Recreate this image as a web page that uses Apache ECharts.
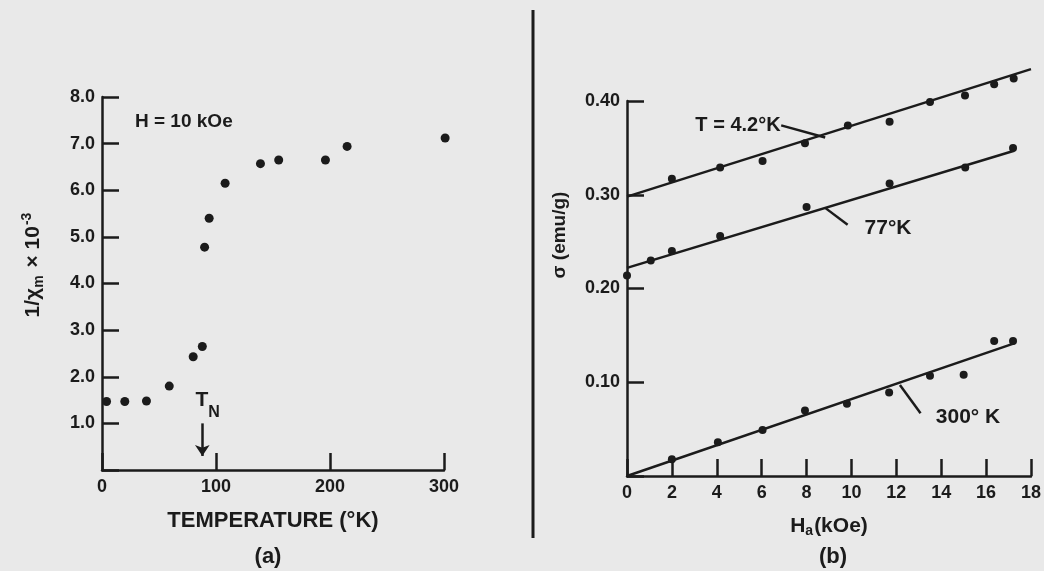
<!DOCTYPE html>
<html>
<head>
<meta charset="utf-8">
<script src="https://cdn.jsdelivr.net/npm/echarts@6/dist/echarts.min.js"></script>
<style>
html, body { margin: 0; padding: 0; background: #e9e9e9; }
#chart { width: 1044px; height: 571px; }
</style>
</head>
<body>
<div id="chart"></div>
<script>
// (a) inverse susceptibility vs temperature, H = 10 kOe
const tempK = [4, 20, 39, 59, 80, 88, 90, 94, 108, 139, 155, 196, 215, 301];
const invChi = [1.47, 1.47, 1.48, 1.80, 2.43, 2.65, 4.78, 5.40, 6.15, 6.57, 6.65, 6.65, 6.94, 7.12];
const tNeel = 88;
const tempTicks = [0, 100, 200, 300];

// (b) magnetisation vs applied field
const field42 = [2.0, 4.15, 6.04, 7.93, 9.84, 11.7, 13.5, 15.06, 16.36, 17.23];
const sigma42 = [0.317, 0.329, 0.336, 0.355, 0.374, 0.378, 0.399, 0.406, 0.418, 0.424];
const field77 = [0, 1.06, 2.0, 4.15, 8.0, 11.7, 15.07, 17.2];
const sigma77 = [0.214, 0.230, 0.240, 0.256, 0.287, 0.312, 0.329, 0.350];
const field300 = [2.0, 4.05, 6.04, 7.93, 9.8, 11.68, 13.5, 15.0, 16.36, 17.2];
const sigma300 = [0.018, 0.036, 0.049, 0.070, 0.077, 0.089, 0.107, 0.108, 0.144, 0.144];

// straight fits drawn through each set (end points)
const fit42 = [[0, 0.298], [18, 0.434]];
const fit77 = [[0, 0.222], [17.25, 0.347]];
const fit300 = [[0, 0], [17.25, 0.1415]];

// short leader lines from the curve labels to the fits
const leader42 = [[6.87, 0.374], [8.83, 0.361]];
const leader77 = [[8.83, 0.286], [9.83, 0.268]];
const leader300 = [[12.16, 0.097], [13.08, 0.067]];

const ink = '#1b1b1b';
const font = 'Liberation Sans';

function zip(xs, ys) {
  return xs.map((x, i) => [x, ys[i]]);
}

function axisBase(extra) {
  return Object.assign({
    axisLine: { lineStyle: { color: ink, width: 2.5 } },
    axisTick: { inside: true, length: 17, lineStyle: { color: ink, width: 2.5 } },
    splitLine: { show: false },
    axisLabel: { color: ink, fontFamily: font, fontWeight: 'bold', fontSize: 18, margin: 8 },
    nameTextStyle: { color: ink, fontFamily: font, fontWeight: 'bold', fontSize: 22 }
  }, extra);
}

function fitLine(data, x, y) {
  return {
    type: 'line', xAxisIndex: x, yAxisIndex: y, data: data,
    symbol: 'none', silent: true, clip: false,
    lineStyle: { color: ink, width: 2.5 }
  };
}

function dots(data, x, y, size) {
  return {
    type: 'scatter', xAxisIndex: x, yAxisIndex: y, data: data, clip: false,
    symbolSize: size, itemStyle: { color: ink, opacity: 1 }
  };
}

function txt(text, x, y, size, extra) {
  return Object.assign({
    type: 'text', x: x, y: y, silent: true,
    style: {
      text: text, fill: ink, font: 'bold ' + size + 'px "' + font + '"',
      textAlign: 'center', textVerticalAlign: 'middle'
    }
  }, extra || {});
}

const chart = echarts.init(document.getElementById('chart'));

const aScatter = dots(zip(tempK, invChi), 0, 0, 9);
aScatter.markLine = {
  silent: true,
  symbol: ['none', 'arrow'],
  symbolSize: 11,
  label: { show: false },
  lineStyle: { color: ink, width: 2.5, type: 'solid' },
  data: [[{ coord: [tNeel, 1.0] }, { coord: [tNeel, 0.3] }]]
};

chart.setOption({
  animation: false,
  backgroundColor: '#e9e9e9',
  grid: [
    { left: 102, top: 97, width: 342, height: 373 },
    { left: 627, top: 101, width: 414, height: 375 }
  ],
  xAxis: [
    axisBase({
      gridIndex: 0, type: 'value', min: tempTicks[0], max: tempTicks[tempTicks.length - 1], interval: 100,
      name: 'TEMPERATURE (°K)', nameLocation: 'middle', nameGap: 40
    }),
    axisBase({
      gridIndex: 1, type: 'value', min: 0, max: 18, interval: 2,
      name: '{h|H}{s|a}{h|(kOe)}', nameLocation: 'middle', nameGap: 38,
      nameTextStyle: {
        rich: {
          h: { color: ink, fontFamily: font, fontWeight: 'bold', fontSize: 21 },
          s: { color: ink, fontFamily: font, fontWeight: 'bold', fontSize: 14, padding: [10, 1, 0, 0] }
        }
      }
    })
  ],
  yAxis: [
    axisBase({
      gridIndex: 0, type: 'value', min: 0, max: 8, interval: 1,
      axisLabel: {
        color: ink, fontFamily: font, fontWeight: 'bold', fontSize: 18, margin: 7,
        formatter: v => (v === 0 ? '' : v.toFixed(1))
      }
    }),
    axisBase({
      gridIndex: 1, type: 'value', min: 0, max: 0.4, interval: 0.1,
      axisLabel: {
        color: ink, fontFamily: font, fontWeight: 'bold', fontSize: 18, margin: 7,
        formatter: v => (v === 0 ? '' : v.toFixed(2))
      }
    })
  ],
  series: [
    aScatter,
    fitLine(fit42, 1, 1),
    fitLine(fit77, 1, 1),
    fitLine(fit300, 1, 1),
    fitLine(leader42, 1, 1),
    fitLine(leader77, 1, 1),
    fitLine(leader300, 1, 1),
    dots(zip(field42, sigma42), 1, 1, 8),
    dots(zip(field77, sigma77), 1, 1, 8),
    dots(zip(field300, sigma300), 1, 1, 8)
  ],
  graphic: [
    // divider between the two panels
    { type: 'line', silent: true, shape: { x1: 533, y1: 10, x2: 533, y2: 538 },
      style: { stroke: ink, lineWidth: 3 } },
    // panel (a) annotations
    txt('H = 10 kOe', 135, 122, 19, { style: {
      text: 'H = 10 kOe', fill: ink, font: 'bold 19px "' + font + '"',
      textAlign: 'left', textVerticalAlign: 'middle' } }),
    txt('T', 202, 400, 21),
    txt('N', 214, 413, 16),
    {
      type: 'text', x: 33, y: 265, rotation: Math.PI / 2, silent: true,
      style: {
        text: '{a|1/χ}{s|m}{a| × 10}{p|-3}',
        textAlign: 'center', textVerticalAlign: 'middle',
        rich: {
          a: { fill: ink, fontFamily: font, fontWeight: 'bold', fontSize: 21 },
          s: { fill: ink, fontFamily: font, fontWeight: 'bold', fontSize: 14, padding: [12, 2, 0, 0] },
          p: { fill: ink, fontFamily: font, fontWeight: 'bold', fontSize: 14, padding: [0, 0, 12, 1] }
        }
      }
    },
    txt('(a)', 268, 557, 22),
    // panel (b) annotations
    {
      type: 'text', x: 560, y: 235, rotation: Math.PI / 2, silent: true,
      style: {
        text: 'σ (emu/g)', fill: ink, font: 'bold 19px "' + font + '"',
        textAlign: 'center', textVerticalAlign: 'middle'
      }
    },
    txt('T = 4.2°K', 738, 125, 20),
    txt('77°K', 888, 228, 21),
    txt('300° K', 968, 417, 21),
    txt('(b)', 833, 557, 22)
  ]
});
</script>
</body>
</html>
